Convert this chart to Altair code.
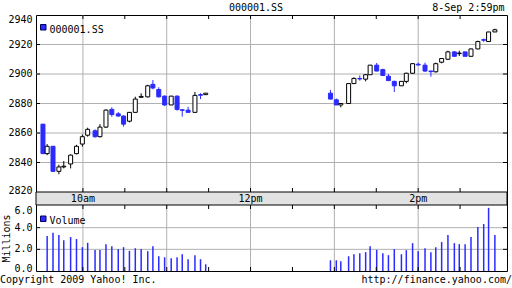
import altair as alt
import pandas as pd

FONT = "DejaVu Sans Mono"
BLUE = "#2b2bff"
GRID = "#b0b0b0"
W, H = 471, 256

# ---- data (times are minutes after 09:30) ----
am_time = [1.4, 4.4, 8.6, 12.8, 16.3, 21.2, 25.4, 29.6, 33.4, 38.7, 42.2, 46.5, 50.7, 55.3, 59.1,
           63.3, 67.5, 71.7, 76.4, 80.1, 84.3, 88.5, 93.2, 97.4, 101.1, 105.3, 110.2, 114.2, 117.9]
am_open = [2866, 2846, 2851, 2834, 2837, 2839, 2846, 2852.5, 2858.5, 2861.5, 2857.5, 2864, 2876, 2873, 2871.5,
           2868, 2874, 2884.2, 2884.5, 2893, 2889.5, 2885, 2879, 2885, 2875.8, 2875.5, 2874, 2886, 2886]
am_high = [2866, 2852.5, 2851, 2838.5, 2841, 2845.5, 2852, 2859, 2863.6, 2862.5, 2866, 2876, 2877.4, 2874.2, 2872,
           2874.2, 2884.6, 2886.9, 2892.7, 2895.9, 2891, 2885.5, 2885.2, 2885.5, 2876, 2877.8, 2887.8, 2887, 2887]
am_low = [2846, 2845, 2834, 2832, 2836, 2836, 2845.5, 2850.7, 2857.5, 2856.8, 2857, 2863.4, 2871, 2871, 2864.3,
          2867.2, 2873.8, 2884.1, 2884.1, 2889.6, 2884.1, 2878.4, 2879, 2875.1, 2871.1, 2873.8, 2873.8, 2883, 2886]
am_close = [2846, 2851, 2834, 2837, 2837.5, 2845, 2851, 2857.5, 2862.5, 2857.5, 2864, 2875.5, 2872.5, 2871.5, 2866,
            2874, 2883, 2884.8, 2892, 2890.5, 2884.5, 2879, 2885, 2876, 2875.4, 2874, 2885.5, 2885.6, 2887]
am_volume = [None, 3.22, 3.53, 3.32, 2.85, 3.13, 2.95, 2.2, 2.6, 1.95, 1.95, 2.48, 2.29, 2.02, 2.2,
             1.86, 2.1, 2.02, 1.83, 2.29, 1.36, 1.27, 1.18, 1.27, 1.55, 1.09, 1.46, 1.09, 0.62]

pm_time = [207.2, 211.4, 214.6, 220.2, 224.0, 228.2, 232.4, 235.6, 240.3, 244.7, 248.7, 252.9, 258.0, 261.5, 266.0,
           270.0, 274.9, 279.1, 282.6, 286.8, 291.3, 295.9, 299.4, 303.6, 307.8, 312.7, 316.9, 320.4, 324.9]
pm_open = [2887, 2882.5, 2879, 2880, 2893.5, 2897, 2896.5, 2899.5, 2906, 2903, 2898.5, 2895, 2892, 2895, 2900.5,
           2906.6, 2906, 2902, 2901.5, 2908, 2910, 2915, 2913.8, 2915, 2912, 2917, 2923.3, 2922, 2928.5]
pm_high = [2889.2, 2883.4, 2880.1, 2893.7, 2897.7, 2899, 2900, 2906, 2907.5, 2903.6, 2900, 2895.5, 2895, 2900.9, 2907.2,
           2907.7, 2907.7, 2902.3, 2907.7, 2910.8, 2915.8, 2915.4, 2915.8, 2915, 2917.2, 2922.6, 2924, 2928.5, 2930.7]
pm_low = [2882.8, 2879, 2877.4, 2880, 2893.5, 2895.5, 2895, 2899.5, 2901.8, 2898.6, 2895.5, 2887.8, 2892, 2893.7, 2900,
          2905.9, 2901.4, 2898.2, 2901, 2907.2, 2909.4, 2911.7, 2912.2, 2912, 2912, 2916.8, 2921.8, 2922, 2928.5]
pm_close = [2883, 2879, 2880, 2893.5, 2897, 2896.6, 2899.5, 2906, 2902, 2899, 2895.5, 2892, 2895, 2900.5, 2907,
            2906.1, 2902, 2901.6, 2907, 2910.5, 2915, 2912, 2914.2, 2912, 2917, 2922, 2922.9, 2928.5, 2930]
pm_volume = [0.99, 0.99, 0.9, 1.36, 1.55, 1.64, 1.74, 2.29, 1.95, 1.64, 1.46, 2.02, 1.55, 1.92, 2.57,
             1.83, 2.1, 1.74, 2.2, 2.67, 3.32, 2.57, 2.48, 2.48, 3.13, 4.06, 4.34, 5.83, 3.32]

price_tick_values = [2840, 2860, 2880, 2900, 2920]
price_tick_labels = ["2840", "2860", "2880", "2900", "2920"]
price_top_value, price_top_label = [2940], ["2940"]
price_bottom_value, price_bottom_label = [2820], ["2820"]
inner_price_ticks = [2840, 2860, 2880, 2900, 2920]
volume_tick_values = [2, 4]
volume_tick_labels = ["2.0", "4.0"]
volume_top_value, volume_top_label = [6], ["6.0"]
volume_bottom_value, volume_bottom_label = [0], ["0.0"]
inner_volume_ticks = [2, 4]
hour_marks = [30, 90, 150, 210, 270]
time_label_values = [30, 150, 270]
time_labels = ["10am", "12pm", "2pm"]
half_hours = [30, 60, 90, 120, 150, 180, 210, 240, 270, 300]

candles = pd.DataFrame({
    "t": am_time + pm_time,
    "open": am_open + pm_open,
    "high": am_high + pm_high,
    "low": am_low + pm_low,
    "close": am_close + pm_close,
    "vol": am_volume + pm_volume,
})
candles["dir"] = ["up" if c >= o else "down" for o, c in zip(candles["open"], candles["close"])]
vols = candles.dropna(subset=["vol"])

xscale = alt.Scale(domain=[0, 330], nice=False, zero=False)
pscale = alt.Scale(domain=[2820, 2940], range=[177, 0], nice=False, zero=False)
vscale = alt.Scale(domain=[0, 6], range=[256, 191], nice=False, zero=False)


def X(field="t"):
    return alt.X(f"{field}:Q", scale=xscale, axis=None)


def PY(field):
    return alt.Y(f"{field}:Q", scale=pscale, axis=None)


def VY(field):
    return alt.Y(f"{field}:Q", scale=vscale, axis=None)


def txt(**kw):
    base = dict(font=FONT, fontSize=10, color="black")
    base.update(kw)
    return base


def ylabels(values, labels, Y, baseline="middle", dy=0):
    return alt.Chart(pd.DataFrame({"v": values, "lab": labels})).mark_text(
        **txt(align="right", baseline=baseline, dy=dy)).encode(y=Y("v"), x=alt.value(-3.5), text="lab:N")


# ---- background: grids + band ----
vgrid = alt.Chart(pd.DataFrame({"t": hour_marks})).mark_rule(color=GRID, strokeWidth=1).encode(
    x=X(), y=alt.value(0), y2=alt.value(H))
pgrid = alt.Chart(pd.DataFrame({"v": inner_price_ticks})).mark_rule(color=GRID, strokeWidth=1).encode(
    y=PY("v"), x=alt.value(0), x2=alt.value(W))
vgrid_h = alt.Chart(pd.DataFrame({"v": inner_volume_ticks})).mark_rule(color=GRID, strokeWidth=1).encode(
    y=VY("v"), x=alt.value(0), x2=alt.value(W))
band = alt.Chart(pd.DataFrame({"k": [0]})).mark_rect(fill="#e2e2e2", stroke="black", strokeWidth=1).encode(
    x=alt.value(0), x2=alt.value(W), y=alt.value(177), y2=alt.value(190))
band_labels = alt.Chart(pd.DataFrame({"t": time_label_values, "lab": time_labels})).mark_text(
    **txt(align="center", baseline="middle")).encode(x=X(), y=alt.value(184), text="lab:N")

# ---- price panel ----
dirscale_line = alt.Scale(domain=["up", "down"], range=["black", BLUE])
dirscale_fill = alt.Scale(domain=["up", "down"], range=["white", BLUE])
wick = alt.Chart(candles).mark_rule(strokeWidth=1).encode(
    x=X(), y=PY("low"), y2="high:Q",
    color=alt.Color("dir:N", scale=dirscale_line, legend=None))
body = alt.Chart(candles).mark_bar(size=4, strokeWidth=1, clip=True).encode(
    x=X(), y=PY("open"), y2="close:Q",
    fill=alt.Fill("dir:N", scale=dirscale_fill, legend=None),
    stroke=alt.Stroke("dir:N", scale=dirscale_line, legend=None))
pt = pd.DataFrame({"v": inner_price_ticks})
ptick_l = alt.Chart(pt).mark_rule(color="black").encode(y=PY("v"), x=alt.value(0), x2=alt.value(4))
ptick_r = alt.Chart(pt).mark_rule(color="black").encode(y=PY("v"), x=alt.value(W - 4), x2=alt.value(W))
price = alt.layer(
    pgrid, wick, body, ptick_l, ptick_r,
    ylabels(price_tick_values, price_tick_labels, PY),
    ylabels(price_top_value, price_top_label, PY, baseline="top"),
    ylabels(price_bottom_value, price_bottom_label, PY, dy=-1),
)

# ---- volume panel ----
vbars = alt.Chart(vols).mark_bar(size=1.5, color=BLUE).encode(x=X(), y=VY("vol"))
vt = pd.DataFrame({"v": inner_volume_ticks})
vtick_l = alt.Chart(vt).mark_rule(color="black").encode(y=VY("v"), x=alt.value(0), x2=alt.value(4))
vtick_r = alt.Chart(vt).mark_rule(color="black").encode(y=VY("v"), x=alt.value(W - 4), x2=alt.value(W))
volume = alt.layer(
    vgrid_h, vbars, vtick_l, vtick_r,
    ylabels(volume_tick_values, volume_tick_labels, VY),
    ylabels(volume_top_value, volume_top_label, VY, baseline="top"),
    ylabels(volume_bottom_value, volume_bottom_label, VY, dy=-2.5),
)

# ---- half-hour ticks on panel edges ----
hh = pd.DataFrame({"t": half_hours})
xt = [alt.Chart(hh).mark_rule(color="black").encode(x=X(), y=alt.value(a), y2=alt.value(b))
      for a, b in [(0, 4), (173, 177), (190, 194), (252, 256)]]


# ---- legends and texts ----
def square(y0):
    return alt.Chart(pd.DataFrame({"k": [0]})).mark_rect(fill=BLUE, stroke="#000060", strokeWidth=1).encode(
        x=alt.value(4.5), x2=alt.value(10), y=alt.value(y0), y2=alt.value(y0 + 5.5))


def label(s, x, y, align="left", angle=0, baseline="alphabetic"):
    return alt.Chart(pd.DataFrame({"txt": [s]})).mark_text(
        **txt(align=align, baseline=baseline, angle=angle)).encode(
        text="txt:N", x=alt.value(x), y=alt.value(y))


texts = [
    square(9.5), label("000001.SS", 13.5, 17.5),
    square(201), label("Volume", 13.5, 208.5),
    label("000001.SS", 220, -4.5, "center"),
    label("8-Sep 2:59pm", 468.5, -4.5, "right"),
    label("Copyright 2009 Yahoo! Inc.", -36, 267.5),
    label("http://finance.yahoo.com/", 476, 267.5, "right"),
    label("Millions", -29, 223.5, "center", 270, "middle"),
]

chart = alt.layer(vgrid, band, band_labels, price, volume, *xt, *texts).resolve_scale(y="independent").properties(
    width=W, height=H,
    autosize=alt.AutoSizeParams(type="none"),
    padding={"left": 36, "top": 15, "right": 5, "bottom": 17},
    background="white",
).configure_view(stroke="black", strokeWidth=1)

chart.save("out.html", embed_options={"renderer": "svg", "actions": False})
